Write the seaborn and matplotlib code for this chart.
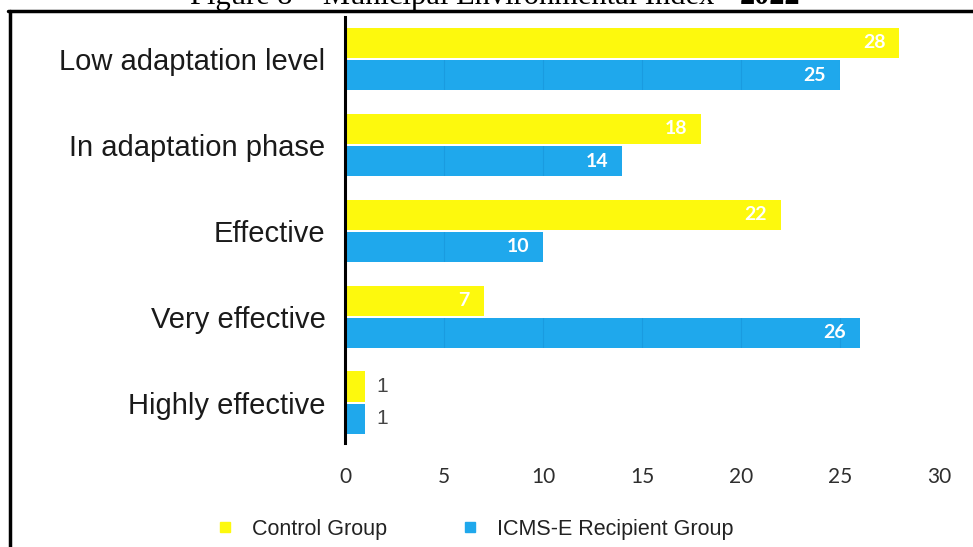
import matplotlib
matplotlib.use("Agg")
import matplotlib.pyplot as plt
from matplotlib.lines import Line2D
import seaborn as sns
import pandas as pd

# Municipal Environmental Index - 2022, number of municipalities per level
categories = ["Low adaptation level", "In adaptation phase", "Effective",
              "Very effective", "Highly effective"]
control_group = [28, 18, 22, 7, 1]
icms_group = [25, 14, 10, 26, 1]
series_names = ["Control Group", "ICMS-E Recipient Group"]
x_ticks = [0, 5, 10, 15, 20, 25, 30]

YELLOW = "#FDF90D"
BLUE = "#1FA8EC"

df = pd.DataFrame({
    "level": categories * 2,
    "count": control_group + icms_group,
    "group": [series_names[0]] * len(categories) + [series_names[1]] * len(categories),
})

sns.set_style("white")
plt.rcParams["font.family"] = ["Liberation Sans", "DejaVu Sans"]

fig = plt.figure(figsize=(9.73, 5.47), dpi=100)
ax = fig.add_axes([345 / 973, 1 - 443 / 547, (939 - 345) / 973, (443 - 17) / 547])

sns.barplot(data=df, y="level", x="count", hue="group", order=categories,
            hue_order=series_names, palette=[YELLOW, BLUE], orient="h",
            width=0.75, gap=0.06, saturation=1, legend=False, ax=ax,
            linewidth=0)

ax.set_xlim(0, 30)
ax.set_ylim(4.47, -0.49)
ax.set_xticks(x_ticks)
ax.set_xticklabels([str(t) for t in x_ticks], fontfamily="Lato", fontsize=15,
                   color="#2e2e2e")
ax.tick_params(axis="x", length=0, pad=17)
ax.tick_params(axis="y", length=0, pad=14, labelsize=21, labelcolor="#1a1a1a")
ax.set_xlabel("")
ax.set_ylabel("")
for side in ["top", "right", "bottom"]:
    ax.spines[side].set_visible(False)
ax.spines["left"].set_color("black")
ax.spines["left"].set_linewidth(2.2)
ax.spines["left"].set_zorder(5)

# faint gridlines visible only across the blue bars
for bar in ax.containers[1]:
    for t in x_ticks[1:-1]:
        ln = ax.axvline(t, color="#1a9be0", lw=0.8, zorder=3)
        ln.set_clip_path(bar)

# value labels: inside the bar end (white) or just outside for short bars
for container, values in zip(ax.containers, [control_group, icms_group]):
    for bar, v in zip(container, values):
        yc = bar.get_y() + bar.get_height() / 2
        if v >= 5:
            ax.annotate(str(v), (bar.get_width(), yc), xytext=(-10, 0),
                        textcoords="offset points", ha="right", va="center",
                        color="white", fontsize=14, fontweight="bold",
                        fontfamily="Lato", zorder=6)
        else:
            ax.annotate(str(v), (bar.get_width(), yc), xytext=(8, 0),
                        textcoords="offset points", ha="left", va="center",
                        color="#444444", fontsize=15, zorder=6)

# legend
handles = [Line2D([], [], marker="s", linestyle="", markersize=6.5,
                  markerfacecolor=c, markeredgecolor=c)
           for c in [YELLOW, BLUE]]
fig.legend(handles, series_names, loc="center left",
           bbox_to_anchor=(216 / 973, 1 - 529 / 547),
           ncol=2, frameon=False, fontsize=15.5, handletextpad=0.86,
           columnspacing=3.45, handlelength=0.8, borderpad=0, borderaxespad=0,
           labelcolor="#222222")

# page frame lines
fig.add_artist(Line2D([8 / 973, 1], [1 - 11 / 547, 1 - 11 / 547],
                      transform=fig.transFigure, color="black", lw=2.5))
fig.add_artist(Line2D([9.5 / 973, 9.5 / 973], [0, 1 - 11 / 547],
                      transform=fig.transFigure, color="black", lw=2.5))

# caption above the frame (partly off the page)
renderer = fig.canvas.get_renderer()
cap_y = 1 - 4 / 547
t1 = fig.text(0, cap_y, "Figure 8 \u2013 Municipal Environmental Index - ",
              ha="left", va="baseline", fontsize=22,
              fontfamily="Liberation Serif", color="black")
t2 = fig.text(0, cap_y, "2022", ha="left", va="baseline", fontsize=22,
              fontfamily="Liberation Serif", fontweight="bold", color="black")
w1 = t1.get_window_extent(renderer).width
w2 = t2.get_window_extent(renderer).width
x0 = 495 - (w1 + w2) / 2
t1.set_x(x0 / 973)
t2.set_x((x0 + w1) / 973)

fig.savefig("out.png", dpi=100)
